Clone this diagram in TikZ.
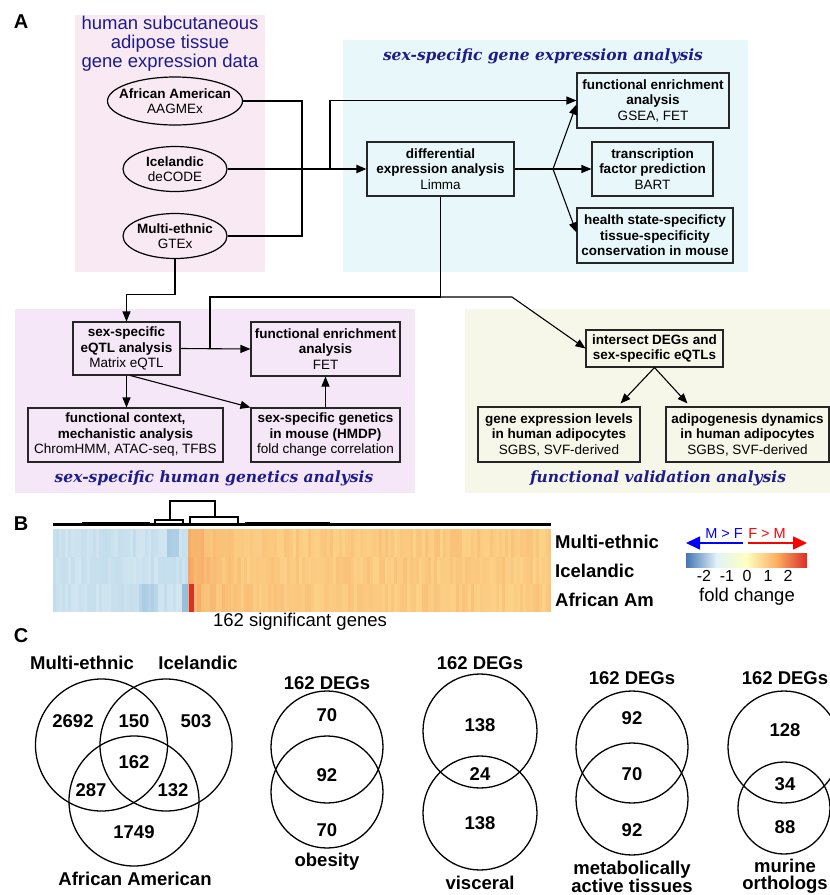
\documentclass[tikz,border=0pt]{standalone}
\usepackage{fontspec}
\setmainfont{Liberation Sans}
\newfontfamily\titlefont{DejaVu Serif}
\usetikzlibrary{shapes.geometric, arrows.meta, positioning, calc}

\definecolor{titleblue}{RGB}{28,28,140}
\definecolor{pinkbg}{RGB}{249,233,242}
\definecolor{cyanbg}{RGB}{232,248,250}
\definecolor{lilacbg}{RGB}{245,231,247}
\definecolor{ivorybg}{RGB}{247,247,233}
\definecolor{hmlblue}{RGB}{212,232,242}
\definecolor{hmdblue}{RGB}{130,178,212}
\definecolor{hmlorange}{RGB}{253,217,142}
\definecolor{hmdorange}{RGB}{245,155,88}
\definecolor{hmred}{RGB}{214,50,40}
\definecolor{barA}{RGB}{69,117,180}
\definecolor{barB}{RGB}{224,243,248}
\definecolor{barC}{RGB}{255,255,191}
\definecolor{barD}{RGB}{253,174,97}
\definecolor{barE}{RGB}{215,48,39}

\tikzstyle{process} = [rectangle, draw=black!85, line width=1.1pt, align=center, inner sep=1pt, font=\fontsize{13.5}{15.5}\selectfont\bfseries]
\tikzstyle{cohort} = [ellipse, draw=black, line width=1.2pt, align=center, inner xsep=-12pt, inner ysep=-3pt, font=\fontsize{13.5}{15.5}\selectfont\bfseries]
\tikzstyle{arrow} = [line width=1.1pt, -{Triangle[length=10pt,width=8pt]}]
\tikzstyle{link} = [line width=1.1pt]
\tikzstyle{section} = [font=\titlefont\bfseries\itshape\fontsize{15.5}{17}\selectfont, text=titleblue]
\tikzstyle{panel} = [font=\fontsize{20}{20}\selectfont\bfseries]
\tikzstyle{biglabel} = [font=\fontsize{18.5}{19}\selectfont\bfseries, inner sep=0pt]
\tikzstyle{count} = [font=\fontsize{18.5}{17}\selectfont\bfseries, inner sep=0pt, align=center]
\tikzstyle{venn} = [line width=1.3pt]

\begin{document}
\begin{tikzpicture}[x=1pt, y=-1pt]
  \useasboundingbox (0,0) rectangle (830,895);
  \fill[white] (0,0) rectangle (830,895);

  % panel A backgrounds
  \fill[pinkbg] (75,15) rectangle (265,272);
  \fill[cyanbg] (343,40) rectangle (748,272);
  \fill[lilacbg] (15,309) rectangle (415,493);
  \fill[ivorybg] (465,309) rectangle (830,493);

  \node[panel] (labA) at (21,22) {A};
  \node[align=center, text=titleblue, font=\fontsize{18.5}{19}\selectfont] (datatitle) at (170,44)
    {human subcutaneous\\adipose tissue\\gene expression data};
  \node[section] (gexTitle) at (543,56) {sex-specific gene expression analysis};
  \node[section] (genTitle) at (214,478) {sex-specific human genetics analysis};
  \node[section] (valTitle) at (658,478) {functional validation analysis};

  % cohorts
  \node[cohort, minimum width=135pt, minimum height=48pt] (aa) at (175,101) {African American\\\mdseries AAGMEx};
  \node[cohort, minimum width=104pt, minimum height=45pt] (ice) at (175,169) {Icelandic\\\mdseries deCODE};
  \node[cohort, minimum width=104pt, minimum height=45pt] (me) at (175,236) {Multi-ethnic\\\mdseries GTEx};

  % gene expression analysis
  \node[process, minimum width=147pt, minimum height=54pt] (diffexp) at (440.5,169) {differential\\expression analysis\\\mdseries Limma};
  \node[process, minimum width=152pt, minimum height=55pt] (fea) at (653,100.5) {functional enrichment\\analysis\\\mdseries GSEA, FET};
  \node[process, minimum width=121pt, minimum height=54pt] (tfp) at (652.5,169) {transcription\\factor prediction\\\mdseries BART};
  \node[process, minimum width=156pt, minimum height=55pt] (health) at (655,235.5) {health state-specificty\\tissue-specificity\\conservation in mouse};

  % human genetics analysis
  \node[process, minimum width=107pt, minimum height=53pt] (eqtl) at (126.5,348.5) {sex-specific\\eQTL analysis\\\mdseries Matrix eQTL};
  \node[process, minimum width=149pt, minimum height=54pt] (feaq) at (325.5,349) {functional enrichment\\analysis\\\mdseries FET};
  \node[process, minimum width=195pt, minimum height=54pt] (context) at (125.5,435) {functional context,\\mechanistic analysis\\\mdseries ChromHMM, ATAC-seq, TFBS};
  \node[process, minimum width=149pt, minimum height=54pt] (hmdp) at (325.5,435) {sex-specific genetics\\in mouse (HMDP)\\\mdseries fold change correlation};

  % functional validation
  \node[process, minimum width=137pt, minimum height=37pt] (isect) at (654.5,348.5) {intersect DEGs and\\sex-specific eQTLs};
  \node[process, minimum width=162pt, minimum height=55pt] (geneexp) at (559,434.5) {gene expression levels\\in human adipocytes\\\mdseries SGBS, SVF-derived};
  \node[process, minimum width=163pt, minimum height=55pt] (adipo) at (747.5,434.5) {adipogenesis dynamics\\in human adipocytes\\\mdseries SGBS, SVF-derived};

  % junctions
  \coordinate (merge) at (302,169);
  \coordinate (split) at (330,169);
  \coordinate (fork) at (553,169);
  \coordinate (down) at (440.5,297);
  \coordinate (tap) at (210,348.5);
  \coordinate (bend) at (512,297);

  \draw[link] (aa.east) -| (merge) |- (me.east);
  \draw[arrow, line width=2pt] (ice.east) -- (diffexp.west);
  \draw[arrow] (split) |- (fea.west);
  \draw[link] (diffexp.east) -- (fork);
  \draw[arrow] (fork) -- ([yshift=-4pt]fea.west);
  \draw[arrow] (fork) -- (tfp.west);
  \draw[arrow] (fork) -- ([yshift=3pt]health.west);
  \draw[link] (diffexp.south) -- (down);
  \draw[link] (down) -| (tap);
  \draw[arrow] (down) -- (bend) -- (isect.west);

  \draw[arrow] (me.south) -- ++(0,35) -| (eqtl.north);
  \draw[arrow] (eqtl.east) -- (feaq.west);
  \draw[arrow] (eqtl.south) -- (eqtl.south |- context.north);
  \draw[arrow] ([xshift=4pt]eqtl.south) -- (hmdp.north west);
  \draw[arrow] (hmdp.north) -- (feaq.south);
  \draw[arrow] (isect.south) -- ([xshift=-20pt,yshift=3pt]geneexp.north east);
  \draw[arrow] (isect.south) -- ([xshift=22pt,yshift=3pt]adipo.north west);

  % panel B: heatmap
  \node[panel] (labB) at (21,524) {B};
  \pgfmathsetseed{11}
  \foreach \r/\ya/\yb in {0/529/557, 1/557/584, 2/584/612} {
    \foreach \i in {0,...,161} {
      \pgfmathsetmacro\xa{53+\i*3.074}
      \ifnum\i<44
        \pgfmathtruncatemacro\m{min(100,4+18*rnd+40*(\r==0)*(\i>36)*(\i<41)+30*(\r==2)*(\i>27)*(\i<34)+55*(\r==2)*(\i>41))}
        \fill[hmdblue!\m!hmlblue] (\xa,\ya) rectangle ++(3.3,\yb-\ya);
      \else
        \pgfmathtruncatemacro\m{min(100,12+28*rnd+55*exp(-(\i-44)/6))}
        \fill[hmdorange!\m!hmlorange] (\xa,\ya) rectangle ++(3.3,\yb-\ya);
      \fi
    }
  }
  \fill[hmred] (189,584) rectangle (193.5,612);

  % dendrogram
  \draw[line width=2.4pt] (53,524.5) -- (551,524.5);
  \draw[line width=1.4pt] (82,522.5) -- (150,522.5);
  \draw[line width=1.4pt] (245,522.5) -- (330,522.5);
  \draw[line width=1.4pt] (170,520) |- (215,501) -- (215,517);
  \draw[line width=1.4pt] (155,524) |- (183,520) -- (183,524);
  \draw[line width=1.4pt] (190,524) |- (238,517) -- (238,524);

  \node[biglabel, anchor=west] (rowME) at (555,542) {Multi-ethnic};
  \node[biglabel, anchor=west] (rowIce) at (555,571) {Icelandic};
  \node[biglabel, anchor=west] (rowAA) at (555,600) {African Am};
  \node[font=\fontsize{18.5}{19}\selectfont] (ngenes) at (300,622) {162 significant genes};

  % legend
  \coordinate (mfTail) at (743,543);
  \coordinate (mfTip) at (686,543);
  \coordinate (fmTail) at (748,543);
  \coordinate (fmTip) at (807,543);
  \draw[blue, line width=1.6pt, -{Triangle[length=14pt,width=13pt]}] (mfTail) -- (mfTip);
  \draw[red, line width=1.6pt, -{Triangle[length=14pt,width=13pt]}] (fmTail) -- (fmTip);
  \node[text=blue, font=\fontsize{14.5}{15}\selectfont] (mf) at (724,534) {M > F};
  \node[text=red, font=\fontsize{14.5}{15}\selectfont] (fm) at (767,534) {F > M};
  \shade[left color=barA, right color=barB] (686,553) rectangle (716.5,567);
  \shade[left color=barB, right color=barC] (716,553) rectangle (747,567);
  \shade[left color=barC, right color=barD] (746.5,553) rectangle (777,567);
  \shade[left color=barD, right color=barE] (776.5,553) rectangle (807,567);
  \foreach \t/\tx in {-2/704, -1/727, 0/747, 1/768, 2/788}
    \node[font=\fontsize{16}{16}\selectfont, inner sep=0pt] at (\tx,576) {\t};
  \node[font=\fontsize{18.5}{19}\selectfont] (fc) at (747,597) {fold change};

  % panel C: overlaps
  \node[panel] (labC) at (21,636) {C};
  \draw[venn] (101.5,745) circle[radius=66pt];
  \draw[venn] (166,745) circle[radius=66pt];
  \draw[venn] (134,801) circle[radius=65pt];
  \node[biglabel] at (82,663) {Multi-ethnic};
  \node[biglabel] at (198,663) {Icelandic};
  \node[biglabel] at (135,879) {African American};
  \foreach \n/\cx/\cy in {2692/73/721, 150/134/721, 503/196/721, 162/134/762, 287/91/790, 132/173/790, 1749/134/832}
    \node[count] at (\cx,\cy) {\n};

  \draw[venn] (327,747) circle[radius=56pt];
  \draw[venn] (327,792) circle[radius=56pt];
  \foreach \n/\cy in {162 DEGs/683, 70/715, 92/775, 70/830, obesity/862}
    \node[count] at (327,\cy) {\n};

  \draw[venn] (480,731) circle[radius=57pt];
  \draw[venn] (480,813) circle[radius=57pt];
  \foreach \n/\cy in {162 DEGs/663, 138/725, 24/774, 138/823, visceral/883}
    \node[count] at (480,\cy) {\n};

  \draw[venn] (632,747) circle[radius=56pt];
  \draw[venn] (632,799) circle[radius=56pt];
  \foreach \n/\cy in {162 DEGs/678, 92/718, 70/774, 92/830}
    \node[count] at (632,\cy) {\n};
  \node[count] (metab) at (632,877) {metabolically\\active tissues};

  \draw[venn] (784,747) circle[radius=56pt];
  \draw[venn] (784,808) circle[radius=46pt];
  \foreach \n/\cy in {162 DEGs/678, 128/730, 34/784, 88/827}
    \node[count] at (785,\cy) {\n};
  \node[count] (murine) at (785,876) {murine\\orthologs};
\end{tikzpicture}
\end{document}
